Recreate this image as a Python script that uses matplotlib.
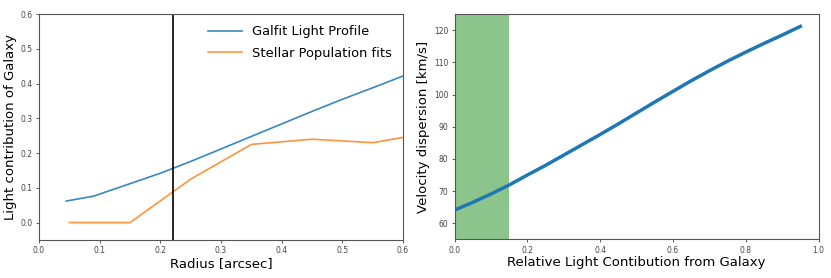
import numpy as np
import matplotlib.pyplot as plt

# left panel: light contribution vs radius
radius_galfit = [0.045, 0.09, 0.15, 0.2, 0.25, 0.3, 0.35, 0.4, 0.45, 0.5, 0.55, 0.6]
light_galfit = [0.062, 0.076, 0.112, 0.142, 0.176, 0.212, 0.248, 0.284, 0.320, 0.355, 0.388, 0.422]

radius_pop = [0.05, 0.1, 0.15, 0.25, 0.35, 0.45, 0.55, 0.6]
light_pop = [0.0, 0.0, 0.0, 0.125, 0.225, 0.240, 0.230, 0.245]

radius_cut = 0.22

# right panel: velocity dispersion vs relative light
rel_light = [0.0, 0.05, 0.1, 0.15, 0.2, 0.25, 0.3, 0.35, 0.4, 0.45, 0.5,
             0.55, 0.6, 0.65, 0.7, 0.75, 0.8, 0.85, 0.9, 0.95]
sigma = [64.1, 66.5, 69.1, 71.9, 75.0, 78.0, 81.2, 84.4, 87.6, 90.9, 94.3,
         97.7, 101.0, 104.3, 107.4, 110.4, 113.2, 115.9, 118.5, 121.2]

shade_max = 0.15

fig = plt.figure(figsize=(8.31, 2.78), dpi=100)
ax1 = fig.add_axes([0.047, 0.137, 0.438, 0.812])
ax2 = fig.add_axes([0.547, 0.139, 0.438, 0.810])

ax1.plot(radius_galfit, light_galfit, color="#3a87c0", lw=1.2, label="Galfit Light Profile")
ax1.plot(radius_pop, light_pop, color="#ff9440", lw=1.2, label="Stellar Population fits")
ax1.axvline(radius_cut, color="black", lw=1.2)
ax1.set_xlim(0, 0.6)
ax1.set_ylim(-0.05, 0.6)
ax1.set_xlabel("Radius [arcsec]", fontsize=9.5, labelpad=1)
ax1.set_ylabel("Light contribution of Galaxy", fontsize=9.5, labelpad=3)
ax1.legend(loc="upper right", frameon=False, fontsize=9.4, handlelength=2.6,
           borderaxespad=0.55, labelspacing=0.65, borderpad=0.3)

ax2.axvspan(0, shade_max, color="green", alpha=0.45, lw=0)
ax2.plot(rel_light, sigma, color="#1f77b4", lw=2.5)
ax2.set_xlim(0, 1.0)
ax2.set_ylim(55, 125)
ax2.set_xlabel("Relative Light Contibution from Galaxy", fontsize=9.5, labelpad=1)
ax2.set_ylabel("Velocity dispersion [km/s]", fontsize=9.5, labelpad=3)

for ax in (ax1, ax2):
    ax.tick_params(labelsize=5.5, length=2.5, width=0.6, pad=2, colors="#444444")
    for s in ax.spines.values():
        s.set_linewidth(0.8)
        s.set_color("#555555")

fig.savefig("out.png", dpi=100)
